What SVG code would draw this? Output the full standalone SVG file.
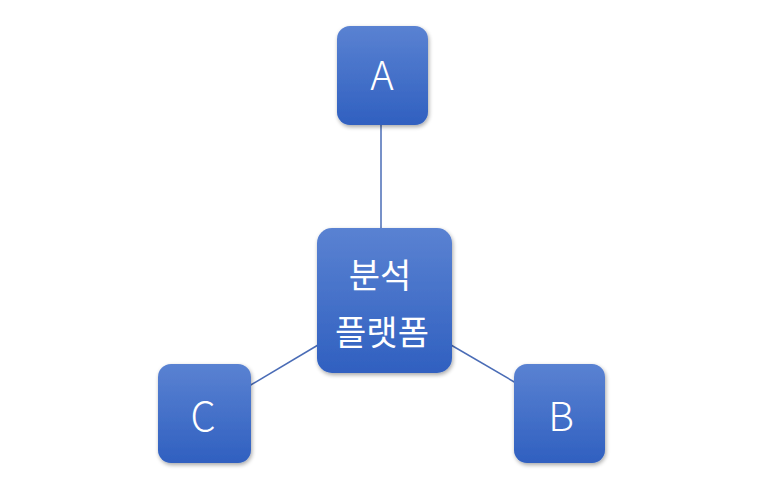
<svg xmlns="http://www.w3.org/2000/svg" width="764" height="499" viewBox="0 0 764 499">
<defs>
<linearGradient id="g" x1="0" y1="0" x2="0" y2="1">
<stop offset="0" stop-color="#5a82d2"/>
<stop offset="1" stop-color="#3060c0"/>
</linearGradient>
<filter id="sh" x="-20%" y="-20%" width="140%" height="140%">
<feGaussianBlur in="SourceAlpha" stdDeviation="2"/>
<feOffset dx="1" dy="2"/>
<feComponentTransfer><feFuncA type="linear" slope="0.35"/></feComponentTransfer>
<feMerge><feMergeNode/><feMergeNode in="SourceGraphic"/></feMerge>
</filter>
</defs>
<style>
.box{fill:url(#g);filter:url(#sh);}
.t{fill:#fff;font-family:"Noto Sans CJK KR","Noto Sans",sans-serif;font-weight:300;text-anchor:middle;}
.l{font-size:40px;}
.k{font-size:34px;font-weight:400;}
.c{stroke:#4a6cb6;stroke-width:1.5;fill:none;}
</style>
<rect width="764" height="499" fill="#fff"/>
<g id="connectors">
<line class="c" x1="381" y1="125" x2="381" y2="228"/>
<line class="c" x1="318" y1="345" x2="249" y2="386"/>
<line class="c" x1="451" y1="345" x2="516" y2="383"/>
</g>
<g id="node-A">
<rect class="box" x="337" y="26" width="91" height="99" rx="13"/>
<text class="t l" x="382" y="90">A</text>
</g>
<g id="node-center">
<rect class="box" x="317" y="228" width="135" height="145" rx="15"/>
<text class="t k" x="380" y="288">분석</text>
<text class="t k" x="382" y="345">플랫폼</text>
</g>
<g id="node-C">
<rect class="box" x="158" y="364" width="93" height="99" rx="13"/>
<text class="t l" x="203" y="431">C</text>
</g>
<g id="node-B">
<rect class="box" x="514" y="364" width="91" height="99" rx="13"/>
<text class="t l" x="561" y="431">B</text>
</g>
</svg>
